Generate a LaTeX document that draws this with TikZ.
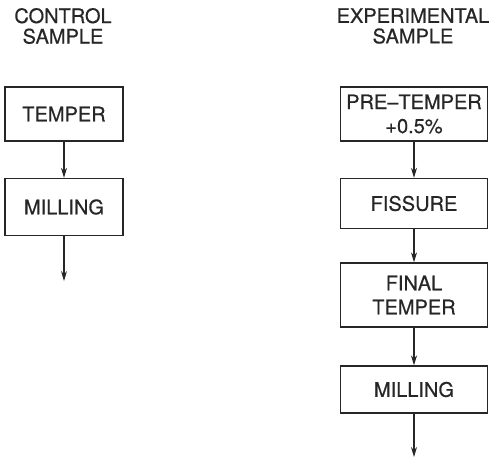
\documentclass[tikz,border=0pt]{standalone}
\usepackage{fontspec}
\setmainfont[FakeBold=0.5]{TeX Gyre Heros}
\usetikzlibrary{arrows.meta}
\begin{document}
\begin{tikzpicture}[x=1pt,y=-1pt,
  box/.style={draw=black!85,line width=1.3pt,minimum width=#1,inner sep=0pt,align=center,font=\fontsize{20}{24}\selectfont,text=black!85},
  head/.style={align=center,font=\fontsize{20}{20.5}\selectfont,text=black!85,inner sep=0pt},
  flow/.style={draw=black!85,line width=1.3pt,-{Stealth[length=10pt,width=6pt]}}]
\useasboundingbox (0,0) rectangle (494,457);
\node[head] (hc) at (63,26) {CONTROL\\SAMPLE};
\node[head] (he) at (413,26) {EXPERIMENTAL\\SAMPLE};
\node[box=118pt,minimum height=54pt] (t1) at (64,114) {TEMPER};
\node[box=118pt,minimum height=57pt] (m1) at (64,207) {MILLING};
\coordinate (e1) at (64,281);
\node[box=147pt,minimum height=54pt] (p2) at (414,114) {PRE--TEMPER\\+0.5\%};
\node[box=147pt,minimum height=50pt] (f2) at (414,203.5) {FISSURE};
\node[box=147pt,minimum height=64pt] (ft2) at (414,295) {FINAL\\TEMPER};
\node[box=147pt,minimum height=47pt] (m2) at (414,389.5) {MILLING};
\coordinate (e2) at (414,457);
\draw[flow] (t1) -- (m1);
\draw[flow] (m1) -- (e1);
\draw[flow] (p2) -- (f2);
\draw[flow] (f2) -- (ft2);
\draw[flow] (ft2) -- (m2);
\draw[flow] (m2) -- (e2);
\end{tikzpicture}
\end{document}
